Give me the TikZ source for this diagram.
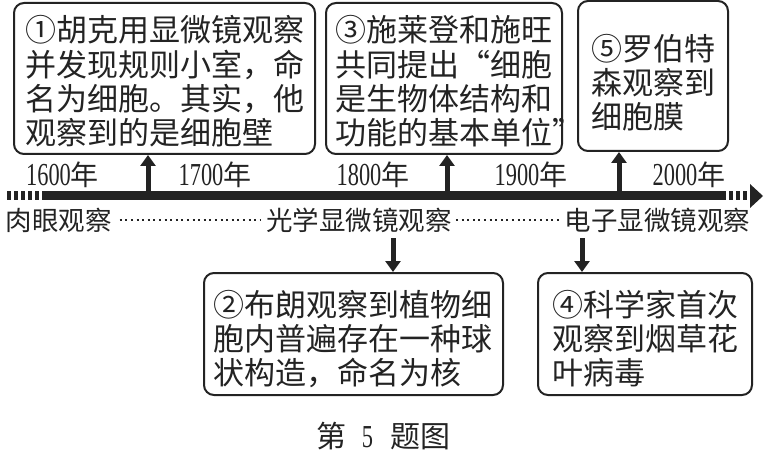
\documentclass[tikz,border=0pt]{standalone}
\usepackage{fontspec}
\usepackage{graphicx}
\setmainfont{Liberation Serif}
\newfontfamily\cjk{Noto Sans CJK SC}
\usetikzlibrary{arrows.meta}
\definecolor{ink}{RGB}{35,35,35}
\newcommand\yrlabel[1]{{\fontsize{32}{32}\selectfont\scalebox{0.7}[1]{#1}}{\cjk\fontsize{28}{28}\selectfont 年}}
\newcommand\firststrut[1]{\rule{0pt}{#1}}
\tikzset{
  box/.style={draw=ink, line width=2pt, rounded corners=10pt, inner sep=0pt, align=left,
    text=ink, font=\cjk\fontsize{31}{34.2}\selectfont},
  yearlbl/.style={text=ink, inner sep=0pt},
  eralbl/.style={text=ink, inner sep=0pt, font=\cjk\fontsize{26.5}{26.5}\selectfont},
  arr/.style={draw=ink, line width=5pt, -{Triangle[width=15pt,length=11pt]}},
  bar/.style={draw=ink, line width=9pt},
  dotline/.style={draw=ink, line width=1.3pt, dash pattern=on 2pt off 3.6pt}
}
\begin{document}
\begin{tikzpicture}[x=1pt,y=-1pt]
\useasboundingbox (0,0) rectangle (770,454);
% boxes
\node[box, text width=279pt, minimum width=301pt, minimum height=151pt] (b1) at (164.5,78.5)
  {\firststrut{32pt}①胡克用显微镜观察\\并发现规则小室，命\\名为细胞。其实，他\\观察到的是细胞壁};
\node[box, text width=218pt, minimum width=236pt, minimum height=151pt] (b3) at (444,78.5)
  {\firststrut{32pt}③施莱登和施旺\\共同提出“细胞\\是生物体结构和\\功能的基本单位\makebox[6pt][l]{”}};
\node[box, text width=123pt, minimum width=150pt, minimum height=150pt] (b5) at (653,76)
  {\firststrut{40pt}⑤罗伯特\\森观察到\\细胞膜};
\node[box, text width=280pt, minimum width=299pt, minimum height=122pt] (b2) at (353.5,334)
  {\firststrut{36pt}②布朗观察到植物细\\胞内普遍存在一种球\\状构造，命名为核};
\node[box, text width=186pt, minimum width=214pt, minimum height=122pt] (b4) at (645,334)
  {\firststrut{36pt}④科学家首次\\观察到烟草花\\叶病毒};
% timeline bar
\coordinate (barL) at (7,196);
\coordinate (barA) at (42,196);
\coordinate (barB) at (722,196);
\coordinate (barR) at (750,196);
\draw[bar, dash pattern=on 4pt off 3pt] (barL) -- (barA);
\draw[bar] (barA) -- (barB);
\draw[bar, dash pattern=on 4pt off 3pt] (barB) -- (barR);
\fill[ink] (750,184) -- (763,196) -- (750,208) -- cycle;
% year labels
\node[yearlbl] (y16) at (62.5,175) {\yrlabel{1600}};
\node[yearlbl] (y17) at (215,175) {\yrlabel{1700}};
\node[yearlbl] (y18) at (373,175) {\yrlabel{1800}};
\node[yearlbl] (y19) at (531,175) {\yrlabel{1900}};
\node[yearlbl] (y20) at (689,175) {\yrlabel{2000}};
% up arrows
\coordinate (u1) at (148,192);
\coordinate (u3) at (447,192);
\coordinate (u5) at (619,192);
\draw[arr] (u1) -- (u1 |- b1.south);
\draw[arr] (u3) -- (u3 |- b3.south);
\draw[arr] (u5) -- (u5 |- b5.south);
% era labels
\node[eralbl] (e1) at (58.5,220) {肉眼观察};
\node[eralbl] (e2) at (359,220) {光学显微镜观察};
\node[eralbl] (e3) at (657.5,220) {电子显微镜观察};
\draw[dotline] ([xshift=8pt]e1.east) -- ([xshift=-6pt]e2.west);
\draw[dotline] ([xshift=4pt]e2.east) -- ([xshift=-6pt]e3.west);
% down arrows
\coordinate (d2) at (393,238);
\coordinate (d4) at (582,238);
\draw[arr] (d2) -- (d2 |- b2.north);
\draw[arr] (d4) -- (d4 |- b4.north);
% caption
\node[text=ink, inner sep=0pt] (cap) at (383.5,436)
  {\cjk\fontsize{30}{30}\selectfont 第\hspace{15pt}{\rmfamily\fontsize{32}{32}\selectfont\scalebox{0.7}[1]{5}}\hspace{17pt}题图};
\end{tikzpicture}
\end{document}
